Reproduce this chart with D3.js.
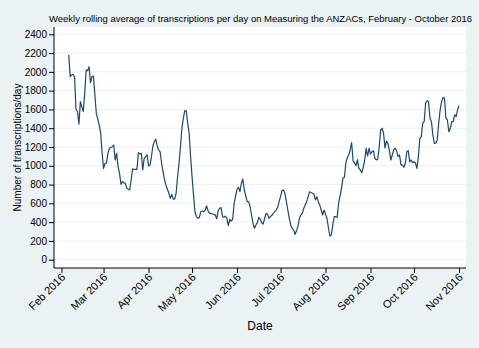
<!DOCTYPE html>
<html>
<head>
<meta charset="utf-8">
<script src="https://cdn.jsdelivr.net/npm/d3@7"></script>
<style>
  html, body { margin: 0; padding: 0; background: #eaf2f3; }
  svg { display: block; }
  text { font-family: "Liberation Sans", Arial, Helvetica, sans-serif; fill: #000; }
</style>
</head>
<body>
<script>
const title = "Weekly rolling average of transcriptions per day on Measuring the ANZACs, February - October 2016";
const xTitle = "Date";
const yTitle = "Number of transcriptions/day";

const dates = [
  "2016-02-06","2016-02-07","2016-02-08","2016-02-09","2016-02-10","2016-02-11","2016-02-12","2016-02-13","2016-02-14","2016-02-15",
  "2016-02-16","2016-02-17","2016-02-18","2016-02-19","2016-02-20","2016-02-21","2016-02-22","2016-02-23","2016-02-24","2016-02-25",
  "2016-02-27","2016-02-28","2016-02-29",
  "2016-03-01","2016-03-02","2016-03-03","2016-03-04","2016-03-05","2016-03-07","2016-03-08","2016-03-09","2016-03-10","2016-03-11",
  "2016-03-12","2016-03-13","2016-03-14","2016-03-15","2016-03-16","2016-03-17","2016-03-19","2016-03-20","2016-03-21","2016-03-22",
  "2016-03-24","2016-03-25","2016-03-26","2016-03-27","2016-03-28","2016-03-29","2016-03-30","2016-03-31",
  "2016-04-01","2016-04-02","2016-04-03","2016-04-04","2016-04-05","2016-04-06","2016-04-07","2016-04-08","2016-04-09","2016-04-10",
  "2016-04-11","2016-04-12","2016-04-13","2016-04-14","2016-04-15","2016-04-16","2016-04-17","2016-04-18","2016-04-19","2016-04-20",
  "2016-04-21","2016-04-22","2016-04-23","2016-04-24","2016-04-25","2016-04-26","2016-04-27","2016-04-28","2016-04-29","2016-04-30",
  "2016-05-01","2016-05-02","2016-05-03","2016-05-04","2016-05-05","2016-05-06","2016-05-07","2016-05-08","2016-05-09","2016-05-10",
  "2016-05-11","2016-05-12","2016-05-13","2016-05-14","2016-05-15","2016-05-16","2016-05-17","2016-05-18","2016-05-19","2016-05-20",
  "2016-05-21","2016-05-22","2016-05-23","2016-05-24","2016-05-25","2016-05-26","2016-05-27","2016-05-28","2016-05-29","2016-05-30",
  "2016-05-31",
  "2016-06-01","2016-06-02","2016-06-03","2016-06-04","2016-06-05","2016-06-06","2016-06-07","2016-06-08","2016-06-09","2016-06-10",
  "2016-06-11","2016-06-12","2016-06-13","2016-06-14","2016-06-15","2016-06-16","2016-06-17","2016-06-18","2016-06-19","2016-06-20",
  "2016-06-21","2016-06-22","2016-06-23","2016-06-24","2016-06-25","2016-06-26","2016-06-27","2016-06-28","2016-06-29","2016-06-30",
  "2016-07-01","2016-07-02","2016-07-03","2016-07-04","2016-07-05","2016-07-06","2016-07-07","2016-07-08","2016-07-09","2016-07-10",
  "2016-07-11","2016-07-12","2016-07-13","2016-07-14","2016-07-15","2016-07-16","2016-07-17","2016-07-18","2016-07-19","2016-07-20",
  "2016-07-21","2016-07-22","2016-07-23","2016-07-24","2016-07-25","2016-07-26","2016-07-27","2016-07-28","2016-07-29","2016-07-30",
  "2016-07-31",
  "2016-08-01","2016-08-02","2016-08-03","2016-08-04","2016-08-05","2016-08-06","2016-08-07","2016-08-08","2016-08-09","2016-08-10",
  "2016-08-11","2016-08-12","2016-08-13","2016-08-14","2016-08-15","2016-08-16","2016-08-17","2016-08-18","2016-08-19","2016-08-20",
  "2016-08-21","2016-08-22","2016-08-23","2016-08-24","2016-08-25","2016-08-26","2016-08-27","2016-08-28","2016-08-29","2016-08-30",
  "2016-08-31",
  "2016-09-01","2016-09-02","2016-09-03","2016-09-04","2016-09-05","2016-09-06","2016-09-07","2016-09-08","2016-09-09","2016-09-10",
  "2016-09-11","2016-09-12","2016-09-13","2016-09-14","2016-09-15","2016-09-16","2016-09-17","2016-09-18","2016-09-19","2016-09-20",
  "2016-09-21","2016-09-22","2016-09-23","2016-09-24","2016-09-25","2016-09-26","2016-09-27","2016-09-28","2016-09-29","2016-09-30",
  "2016-10-01","2016-10-02","2016-10-03","2016-10-04","2016-10-05","2016-10-06","2016-10-07","2016-10-08","2016-10-09","2016-10-10",
  "2016-10-11","2016-10-12","2016-10-13","2016-10-14","2016-10-15","2016-10-16","2016-10-17","2016-10-18","2016-10-19","2016-10-20",
  "2016-10-21","2016-10-22","2016-10-23","2016-10-24","2016-10-25","2016-10-26","2016-10-27","2016-10-28","2016-10-29","2016-10-30",
  "2016-10-31","2016-11-01"
];

const values = [
  2180,1949,1967,1974,1942,1602,1576,1442,1683,1629,
  1576,1772,2020,2013,2055,1885,1949,1956,1754,1559,
  1435,1346,1133,
  973,1027,1027,1133,1186,1203,1221,1062,1133,990,
  920,803,831,820,810,760,742,849,966,962,
  962,1140,1126,1133,955,1080,1097,1115,
  998,1008,1097,1211,1257,1282,1211,1168,1147,1027,
  937,849,796,750,707,654,696,646,646,707,
  884,1027,1203,1399,1506,1587,1584,1453,1346,1097,
  884,689,511,458,441,448,511,518,511,529,
  572,522,494,494,487,483,476,437,522,547,
  554,458,451,465,441,362,430,412,430,600,
  678,
  750,771,724,814,859,742,680,618,618,564,
  476,388,334,370,394,451,430,394,380,441,
  494,483,441,458,473,494,511,529,558,618,
  671,735,742,707,618,529,441,370,334,316,
  270,309,355,441,476,494,547,583,618,671,
  724,715,707,696,636,671,618,583,529,476,
  529,
  483,441,340,252,263,370,458,458,451,600,
  676,760,867,877,1030,1086,1115,1168,1246,1051,
  1033,1000,1066,973,955,927,984,1062,1186,1104,
  1186,
  1125,1150,1161,1080,1062,1069,1203,1381,1399,1346,
  1190,1264,1239,1161,1062,1115,1168,1186,1158,1097,
  1115,1010,1008,984,1027,1150,1161,1044,1062,1033,
  1044,1027,973,1100,1293,1311,1453,1470,1666,1693,
  1683,1506,1470,1328,1239,1240,1275,1453,1594,1683,
  1729,1718,1506,1488,1363,1399,1470,1470,1541,1523,
  1594,1640
];

const yTicks = [0,200,400,600,800,1000,1200,1400,1600,1800,2000,2200,2400];
const xTickDates = ["2016-02-01","2016-03-01","2016-04-01","2016-05-01","2016-06-01","2016-07-01","2016-08-01","2016-09-01","2016-10-01","2016-11-01"];

const W = 479, H = 348;
const plot = { left: 54, right: 466, top: 27, bottom: 268 };
const parse = d3.timeParse("%Y-%m-%d");
const data = dates.map((d, i) => ({ date: parse(d), value: values[i] }));

const svg = d3.select("body").append("svg").attr("width", W).attr("height", H);
svg.append("rect").attr("width", W).attr("height", H).attr("fill", "#eaf2f3");

svg.append("rect")
  .attr("x", plot.left).attr("y", plot.top)
  .attr("width", plot.right - plot.left).attr("height", plot.bottom - plot.top)
  .attr("fill", "#ffffff");

const x = d3.scaleTime()
  .domain([parse(xTickDates[0]), parse(xTickDates[xTickDates.length - 1])])
  .range([61.5, 459]);
const y = d3.scaleLinear().domain([0, 2400]).range([259.7, 34.3]);

// gridlines
svg.append("g").selectAll("line").data(yTicks).join("line")
  .attr("x1", plot.left).attr("x2", plot.right)
  .attr("y1", d => y(d)).attr("y2", d => y(d))
  .attr("stroke", "#eaf2f3").attr("stroke-width", 1);

// line
const line = d3.line().x(d => x(d.date)).y(d => y(d.value));
svg.append("path").datum(data)
  .attr("d", line)
  .attr("fill", "none")
  .attr("stroke", "#1a476f")
  .attr("stroke-width", 1.2)
  .attr("stroke-linejoin", "round");

// y axis
const yAxis = d3.axisLeft(y).tickValues(yTicks).tickFormat(d3.format("d")).tickSize(5).tickPadding(2).tickSizeOuter(0);
const gy = svg.append("g").attr("transform", `translate(${plot.left},0)`).call(yAxis);
gy.select(".domain").attr("d", `M0,${plot.top}V${plot.bottom}`).attr("stroke", "#000");
gy.selectAll(".tick line").attr("stroke", "#000");
gy.selectAll(".tick text").attr("font-size", 10).attr("font-family", "Liberation Sans, Arial, sans-serif").attr("fill", "#000");

// x axis
const xAxis = d3.axisBottom(x).tickValues(xTickDates.map(parse)).tickFormat(d3.timeFormat("%b %Y")).tickSize(5).tickSizeOuter(0);
const gx = svg.append("g").attr("transform", `translate(0,${plot.bottom})`).call(xAxis);
gx.select(".domain").attr("d", `M${plot.left},0H${plot.right}`).attr("stroke", "#000");
gx.selectAll(".tick line").attr("stroke", "#000");
gx.selectAll(".tick text")
  .attr("font-size", 11).attr("font-family", "Liberation Sans, Arial, sans-serif").attr("fill", "#000")
  .attr("text-anchor", "end")
  .attr("dy", null)
  .attr("transform", "translate(4,10) rotate(-45)")
  .attr("y", 0).attr("x", 0);

// titles
svg.append("text").attr("x", 260.5).attr("y", 22).attr("text-anchor", "middle")
  .attr("font-size", 9.6).attr("textLength", 423).attr("lengthAdjust", "spacingAndGlyphs").text(title);
svg.append("text").attr("x", 260).attr("y", 330).attr("text-anchor", "middle")
  .attr("font-size", 12).text(xTitle);
svg.append("text").attr("transform", `translate(21,${(plot.top + plot.bottom) / 2}) rotate(-90)`)
  .attr("text-anchor", "middle").attr("font-size", 10).text(yTitle);
</script>
</body>
</html>
